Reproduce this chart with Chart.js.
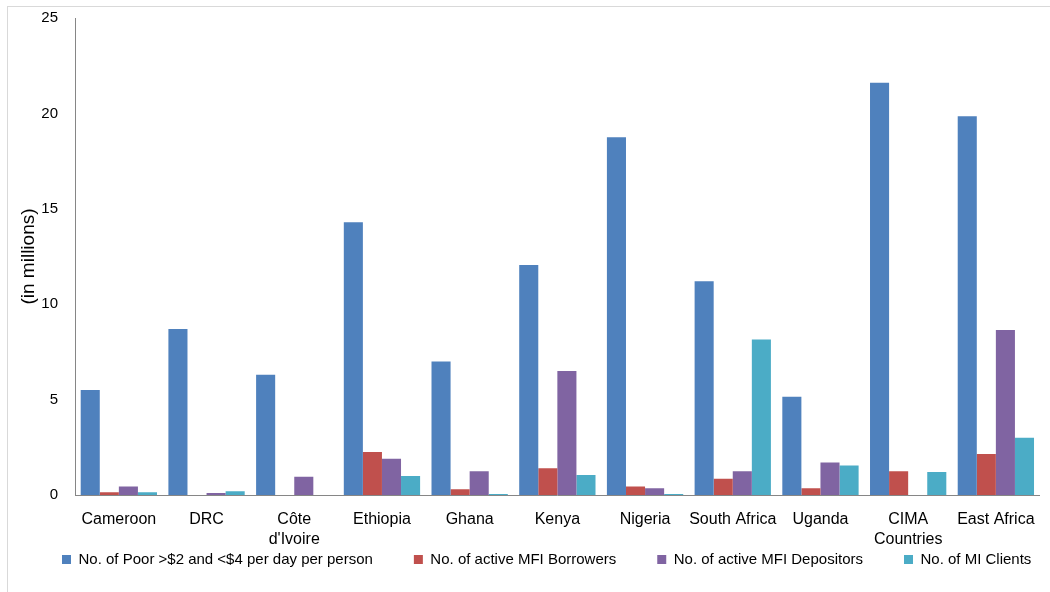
<!DOCTYPE html>
<html>
<head>
<meta charset="utf-8">
<script src="https://cdn.jsdelivr.net/npm/chart.js@4.4.1/dist/chart.umd.min.js"></script>
<style>
  html, body { margin: 0; padding: 0; background: #fff; overflow: hidden; }
  #frame { position: absolute; left: 7px; top: 6px; width: 1100px; height: 700px; border: 1px solid #d9d9d9; }
  #grafico { position: absolute; left: 0; top: 0; }
</style>
</head>
<body>
<div id="frame"></div>
<canvas id="grafico" width="1050" height="592"></canvas>
<script>
// Datos (en millones)
const paises = ["Cameroon", "DRC", ["Côte", "d'Ivoire"], "Ethiopia", "Ghana", "Kenya", "Nigeria",
                "South Africa", "Uganda", ["CIMA", "Countries"], "East Africa"];
const pobres       = [5.5, 8.7, 6.3, 14.3, 7.0, 12.05, 18.75, 11.2, 5.15, 21.6, 19.85];
const prestatarios = [0.15, 0, 0, 2.25, 0.3, 1.4, 0.45, 0.85, 0.35, 1.25, 2.15];
const depositantes = [0.45, 0.1, 0.95, 1.9, 1.25, 6.5, 0.35, 1.25, 1.7, 0, 8.65];
const clientesMI   = [0.15, 0.2, 0, 1.0, 0.05, 1.05, 0.05, 8.15, 1.55, 1.2, 3.0];
const ticksY = [0, 5, 10, 15, 20, 25];

const fuente = "'Liberation Sans', Arial, sans-serif";

// La leyenda va en una sola fila, pegada a las etiquetas del eje X
const leyendaCompacta = {
    id: "leyendaCompacta",
    beforeLayout(chart) {
        const leg = chart.legend;
        if (leg && !leg._compacta) {
            const fitOrig = leg.fit;
            leg.fit = function() {
                const mw = this.maxWidth;
                this.maxWidth = 5000;   // sin salto de línea
                fitOrig.call(this);
                this.maxWidth = mw;
                this.width = mw;
                this.height = 14;
            };
            leg._compacta = true;
        }
    },
    afterLayout(chart) {
        const leg = chart.legend;
        const pad = leg.options.labels.padding;
        leg.top = 552 - pad;
        leg.left = 62 - pad;
        leg.right = 5000;
    }
};

const ctx = document.getElementById("grafico").getContext("2d");
new Chart(ctx, {
    type: "bar",
    data: {
        labels: paises,
        datasets: [
            { label: "No. of Poor >$2 and <$4 per day per person", data: pobres, backgroundColor: "#4F81BD" },
            { label: "No. of active MFI Borrowers", data: prestatarios, backgroundColor: "#C0504D" },
            { label: "No. of active MFI Depositors", data: depositantes, backgroundColor: "#8064A2" },
            { label: "No. of MI Clients", data: clientesMI, backgroundColor: "#4BACC6" }
        ]
    },
    plugins: [leyendaCompacta],
    options: {
        responsive: false,
        animation: false,
        devicePixelRatio: 1,
        layout: { padding: { left: 8, right: 10, top: 0, bottom: 21 } },
        datasets: { bar: { categoryPercentage: 0.87, barPercentage: 1.0 } },
        plugins: {
            tooltip: { enabled: false },
            legend: {
                position: "bottom",
                align: "start",
                labels: {
                    boxWidth: 9,
                    boxHeight: 9,
                    padding: 41,
                    color: "#000",
                    font: { family: fuente, size: 15 }
                }
            }
        },
        scales: {
            x: {
                afterFit: axis => { axis.height = 62; },
                grid: { display: false, drawTicks: false },
                border: { display: true, color: "#868686" },
                ticks: { color: "#000", font: { family: fuente, size: 16, lineHeight: 1.25 }, maxRotation: 0, autoSkip: false, padding: 15 }
            },
            y: {
                min: 0,
                max: 25,
                afterBuildTicks: axis => { axis.ticks = ticksY.map(v => ({ value: v })); },
                afterFit: axis => { axis.width = 67; axis.paddingTop = 18; },
                grid: { display: false, drawTicks: false },
                border: { display: true, color: "#868686" },
                ticks: { color: "#000", font: { family: fuente, size: 15 }, padding: 17 },
                title: { display: true, text: "(in millions)", color: "#000", font: { family: fuente, size: 19 }, padding: { top: 9, bottom: 0 } }
            }
        }
    }
});
</script>
</body>
</html>
